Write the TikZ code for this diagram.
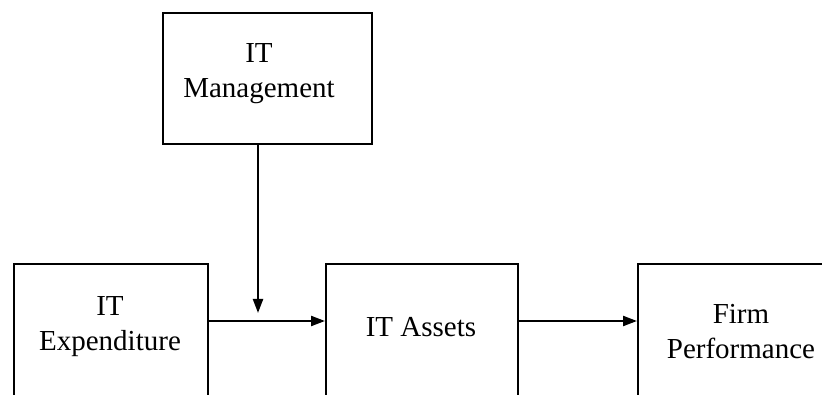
\documentclass[tikz,border=0pt]{standalone}
\usepackage{fontspec}
\setmainfont{Liberation Serif}
\usetikzlibrary{arrows.meta}
\tikzset{
  box/.style={draw=black, line width=2.2pt, inner sep=0pt, anchor=north west},
  lbl/.style={font=\fontsize{29}{35}\selectfont, align=center, inner sep=0pt, anchor=base},
  arr/.style={draw=black, line width=2.2pt, -{Triangle[length=14pt,width=10pt]}}
}
\begin{document}
\begin{tikzpicture}[x=1pt,y=-1pt]
\useasboundingbox (0,0) rectangle (822,395);
\clip (0,0) rectangle (822,395);
\fill[white] (0,0) rectangle (822,395);
\node[box, minimum width=209pt, minimum height=131pt] (mgmt) at (162,12) {};
\node[box, minimum width=194pt, minimum height=160pt] (exp) at (13,263) {};
\node[box, minimum width=192pt, minimum height=160pt] (assets) at (325,263) {};
\node[box, minimum width=208pt, minimum height=160pt] (firm) at (637,263) {};
\node[lbl] (mgmtlbl) at (259,98) {IT\\Management};
\node[lbl] (explbl) at (110,350) {IT\\Expenditure};
\node[lbl] (assetslbl) at (421,337) {IT Assets};
\node[lbl] (firmlbl) at (741,358) {Firm\\Performance};
\coordinate (hy) at (0,321);
\coordinate (tip) at (258,313);
\draw[arr] (exp.east |- hy) -- (assets.west |- hy);
\draw[arr] (assets.east |- hy) -- (firm.west |- hy);
\draw[arr] (mgmt.south -| tip) -- (tip);
\end{tikzpicture}
\end{document}
